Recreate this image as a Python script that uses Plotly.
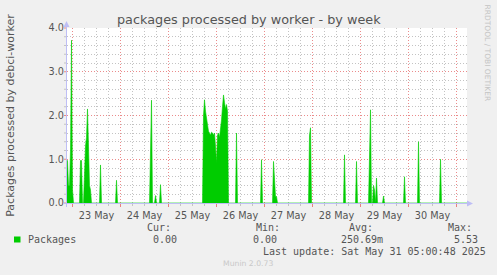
import plotly.graph_objects as go

# ---------------- data ----------------
sample_times = [
    "2025-05-22 21:15", "2025-05-22 21:30", "2025-05-22 22:00", "2025-05-22 22:30",
    "2025-05-22 23:00", "2025-05-22 23:30", "2025-05-23 00:00", "2025-05-23 00:30",
    "2025-05-23 03:30", "2025-05-23 04:00", "2025-05-23 04:30", "2025-05-23 05:00",
    "2025-05-23 05:30", "2025-05-23 06:00", "2025-05-23 06:30", "2025-05-23 07:00",
    "2025-05-23 07:30", "2025-05-23 08:00", "2025-05-23 08:30", "2025-05-23 09:00",
    "2025-05-23 09:30",
    "2025-05-23 13:30", "2025-05-23 14:00", "2025-05-23 14:30",
    "2025-05-23 21:30", "2025-05-23 22:00", "2025-05-23 22:30",
    "2025-05-24 14:30", "2025-05-24 15:00", "2025-05-24 15:30", "2025-05-24 16:00",
    "2025-05-24 17:00", "2025-05-24 17:30", "2025-05-24 18:00",
    "2025-05-24 19:30", "2025-05-24 20:00", "2025-05-24 20:30",
    "2025-05-25 17:00", "2025-05-25 17:30", "2025-05-25 18:00", "2025-05-25 18:30",
    "2025-05-25 19:00", "2025-05-25 19:30", "2025-05-25 20:00", "2025-05-25 20:30",
    "2025-05-25 21:00", "2025-05-25 21:30", "2025-05-25 22:00", "2025-05-25 22:30",
    "2025-05-25 23:00", "2025-05-25 23:30", "2025-05-26 00:00", "2025-05-26 00:30",
    "2025-05-26 01:00", "2025-05-26 01:30", "2025-05-26 02:00", "2025-05-26 02:30",
    "2025-05-26 03:00", "2025-05-26 03:30", "2025-05-26 04:00", "2025-05-26 04:30",
    "2025-05-26 05:00", "2025-05-26 05:30", "2025-05-26 06:00",
    "2025-05-26 09:30", "2025-05-26 10:00", "2025-05-26 10:30",
    "2025-05-26 22:00", "2025-05-26 22:30", "2025-05-26 23:00",
    "2025-05-27 04:00", "2025-05-27 04:30", "2025-05-27 05:00", "2025-05-27 05:30",
    "2025-05-27 06:00", "2025-05-27 06:30",
    "2025-05-27 22:00", "2025-05-27 22:30", "2025-05-27 23:00", "2025-05-27 23:30",
    "2025-05-28 15:30", "2025-05-28 16:00", "2025-05-28 16:30",
    "2025-05-28 21:30", "2025-05-28 22:00", "2025-05-28 22:30",
    "2025-05-29 04:00", "2025-05-29 04:30", "2025-05-29 05:00", "2025-05-29 05:30",
    "2025-05-29 06:00", "2025-05-29 06:30", "2025-05-29 07:00", "2025-05-29 07:30",
    "2025-05-29 08:00", "2025-05-29 08:30",
    "2025-05-29 11:00", "2025-05-29 11:30", "2025-05-29 12:00",
    "2025-05-29 21:30", "2025-05-29 22:00", "2025-05-29 22:30",
    "2025-05-30 04:30", "2025-05-30 05:00", "2025-05-30 05:30",
    "2025-05-30 15:30", "2025-05-30 16:00", "2025-05-30 16:30",
    "2025-05-31 05:15",
]
packages = [
    0.97, 0.97, 0.40, 0.40,
    1.20, 3.72, 0.30, 0.0,
    0.0, 0.97, 0.97, 0.0,
    0.0, 0.90, 1.30, 1.50,
    2.15, 1.30, 0.40, 0.30,
    0.0,
    0.0, 0.87, 0.0,
    0.0, 0.52, 0.0,
    0.0, 1.60, 2.35, 0.0,
    0.0, 0.17, 0.0,
    0.0, 0.42, 0.0,
    0.0, 2.00, 2.36, 2.10,
    1.90, 1.70, 1.64, 1.60,
    1.55, 1.62, 1.60, 1.55,
    1.60, 1.30, 0.92, 1.55,
    1.60, 1.50, 1.65, 1.90,
    2.20, 2.47, 2.30, 2.15,
    2.25, 2.10, 0.0,
    0.0, 1.60, 0.0,
    0.0, 0.99, 0.0,
    0.0, 0.95, 0.50, 0.15,
    0.15, 0.0,
    0.0, 1.55, 1.72, 0.0,
    0.0, 1.10, 0.0,
    0.0, 0.95, 0.0,
    0.0, 1.50, 2.13, 0.0,
    0.0, 0.40, 0.30, 0.0,
    0.57, 0.0,
    0.0, 0.16, 0.0,
    0.0, 0.60, 0.0,
    0.0, 1.40, 0.0,
    0.0, 1.00, 0.0,
    0.0,
]

x_range = ["2025-05-22 21:15", "2025-05-31 05:15"]
y_range = [0, 4]

title_text = "packages processed by worker - by week"
y_title = "Packages processed by debci-worker"
series_name = "Packages"
stat_headers = ["Cur:", "Min:", "Avg:", "Max:"]
stat_values = ["0.00", "0.00", "250.69m", "5.53"]
last_update = "Last update: Sat May 31 05:00:48 2025"
footer = "Munin 2.0.73"
watermark = "RRDTOOL / TOBI OETIKER"

# ---------------- layout geometry ----------------
W, H = 497, 275
L, T, PW, PH = 67, 28, 400, 175
R = W - L - PW
B = H - T - PH


def px(x):
    return (x - L) / PW


def py(y):
    return (T + PH - y) / PH


GREEN = "#00cc00"
TXT = "#555555"
AXIS = "rgb(190,190,245)"
MAJOR = "rgba(230,110,110,0.8)"
MINOR = "rgb(195,195,195)"
DASH = "1px,2px"

fig = go.Figure()
fig.add_trace(go.Scatter(
    x=sample_times, y=packages, mode="lines", fill="tozeroy",
    line=dict(color=GREEN, width=0.6), fillcolor=GREEN,
    name=series_name, showlegend=False, hoverinfo="skip",
))

fig.update_layout(
    width=W, height=H,
    margin=dict(l=L, r=R, t=T, b=B, pad=0),
    paper_bgcolor="#f0f0f0", plot_bgcolor="#ffffff",
    font=dict(family="DejaVu Sans", size=10, color=TXT),
    showlegend=False,
)

fig.update_xaxes(
    type="date", range=x_range, showline=False, zeroline=False,
    dtick=86400000, tick0="2025-05-23", tickformat="%-d %b",
    ticklabelmode="period",
    showgrid=True, gridcolor=MAJOR, griddash=DASH, gridwidth=1,
    ticks="outside", ticklen=3, tickcolor="rgba(230,100,100,0.8)",
    tickfont=dict(family="DejaVu Sans", size=9.7, color=TXT),
    minor=dict(dtick=6 * 3600000, showgrid=True, gridcolor=MINOR,
               griddash=DASH, gridwidth=1,
               ticks="outside", ticklen=2, tickcolor=MINOR),
)
fig.update_yaxes(
    range=y_range, showline=False, zeroline=False,
    dtick=1, tick0=0, tickformat=".1f",
    showgrid=True, gridcolor=MAJOR, griddash=DASH, gridwidth=1,
    ticks="", ticklabelstandoff=2,
    tickfont=dict(family="DejaVu Sans", size=9.7, color=TXT),
    minor=dict(dtick=0.2, showgrid=True, gridcolor=MINOR,
               griddash=DASH, gridwidth=1),
)

shapes = []
# short tick marks left of the y axis
for v in range(0, 21):
    yy = T + PH - v * PH / 20
    shapes.append(dict(type="line", xref="paper", yref="paper",
                       x0=px(64), x1=px(66.5), y0=py(yy), y1=py(yy),
                       line=dict(color=MAJOR if v % 5 == 0 else MINOR, width=1)))
# axis lines
shapes.append(dict(type="line", xref="paper", yref="paper",
                   x0=px(63), x1=px(468), y0=py(203.5), y1=py(203.5),
                   line=dict(color=AXIS, width=1)))
shapes.append(dict(type="line", xref="paper", yref="paper",
                   x0=px(66.5), x1=px(66.5), y0=py(207), y1=py(24),
                   line=dict(color=AXIS, width=1)))
# arrow heads
shapes.append(dict(type="path", xref="paper", yref="paper",
                   path=f"M {px(467)},{py(200.5)} L {px(473)},{py(203.5)} L {px(467)},{py(206.5)} Z",
                   fillcolor=AXIS, line=dict(width=0)))
shapes.append(dict(type="path", xref="paper", yref="paper",
                   path=f"M {px(63.5)},{py(27)} L {px(66.5)},{py(21)} L {px(69.5)},{py(27)} Z",
                   fillcolor=AXIS, line=dict(width=0)))
# legend swatch
shapes.append(dict(type="rect", xref="paper", yref="paper",
                   x0=px(14), x1=px(20.5), y0=py(242.5), y1=py(236.5),
                   fillcolor=GREEN, line=dict(width=0)))
fig.update_layout(shapes=shapes)

ann = []


def text(s, x, y, size=10, family="DejaVu Sans", color=TXT, xanchor="left", angle=0):
    ann.append(dict(text=s, x=px(x), y=py(y), xref="paper", yref="paper",
                    showarrow=False, xanchor=xanchor, yanchor="middle",
                    textangle=angle, borderpad=0,
                    font=dict(family=family, size=size, color=color)))


text(title_text, 248.5, 19.5, size=12.8, xanchor="center")
text(y_title, 11, 115.8, size=11, xanchor="center", angle=-90)
text(watermark, 487.5, 53, size=7.5, color="#c4c4c4", xanchor="center", angle=90)

MONO = "DejaVu Sans Mono"
text(series_name, 26.5, 239.5, family=MONO)
for s, x in zip(stat_headers, [145.5, 255, 347.5, 446.5]):
    text(s, x, 227.5, family=MONO)
for s, x in zip(stat_values, [151.5, 252, 340, 453]):
    text(s, x, 239.5, family=MONO)
text(last_update, 261.5, 251.7, family=MONO)
text(footer, 247.7, 263.5, size=7.7, color="#c8c8c8", xanchor="center")

fig.update_layout(annotations=ann)

fig.write_html("out.html")
